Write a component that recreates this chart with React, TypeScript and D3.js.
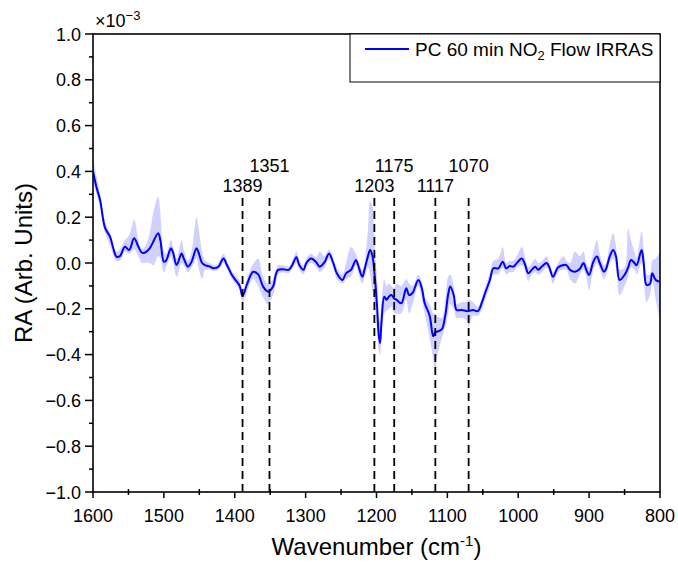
import React from "react";
import * as d3 from "d3";

const wavenumbers = [1600,1595,1590,1583,1576,1571,1567,1562,1555,1549,1542,1536,1531,1527,1520,1515,1508,1505,1500,1497,1490,1487,1482,1475,1472,1466,1461,1454,1451,1446,1442,1435,1430,1423,1416,1411,1404,1397,1393,1389,1383,1377,1374,1367,1360,1353,1346,1342,1339,1332,1324,1320,1313,1309,1303,1299,1292,1285,1280,1273,1267,1261,1256,1248,1243,1236,1229,1226,1220,1217,1212,1209,1206,1202,1199,1197,1195,1193,1189,1186,1182,1179,1175,1172,1165,1158,1154,1149,1141,1136,1132,1125,1120,1117,1115,1108,1103,1099,1096,1091,1087,1080,1073,1070,1064,1057,1051,1047,1040,1035,1028,1022,1017,1012,1007,1002,995,990,986,981,976,972,966,960,956,951,944,936,932,927,920,913,908,904,900,894,889,885,879,876,871,866,862,857,850,845,841,836,833,826,823,819,814,811,806,800];
const raMean = [0.40,0.33,0.275,0.153,0.115,0.06,0.028,0.03,0.071,0.057,0.108,0.071,0.045,0.045,0.064,0.093,0.13,0.10,0.006,0.01,0.064,0.045,-0.009,0.042,0.02,-0.016,0.005,0.064,0.045,0.0,-0.009,-0.016,-0.023,-0.016,0.02,-0.009,-0.052,-0.082,-0.10,-0.144,-0.095,-0.05,-0.038,-0.05,-0.103,-0.125,-0.103,-0.05,-0.03,-0.027,-0.03,-0.016,0.025,-0.009,-0.03,0.0,0.02,0.003,-0.016,0.005,0.042,0.0,-0.045,-0.074,-0.045,-0.03,0.013,-0.009,-0.06,-0.03,0.03,0.057,0.035,-0.074,-0.20,-0.31,-0.35,-0.26,-0.147,-0.16,-0.145,-0.14,-0.155,-0.16,-0.176,-0.11,-0.14,-0.13,-0.074,-0.11,-0.176,-0.23,-0.32,-0.30,-0.30,-0.29,-0.23,-0.14,-0.103,-0.14,-0.205,-0.205,-0.21,-0.21,-0.205,-0.21,-0.17,-0.133,-0.074,-0.023,-0.023,0.006,-0.023,-0.013,-0.016,0.0,0.02,-0.01,-0.045,-0.03,-0.016,-0.03,-0.013,0.0,-0.02,-0.06,-0.02,-0.009,-0.009,-0.03,-0.038,-0.025,0.0,-0.03,-0.052,0.006,0.028,0.0,-0.038,-0.025,0.028,0.057,0.028,-0.074,-0.052,-0.02,0.013,0.0,-0.01,0.057,0.0,-0.096,-0.09,-0.045,-0.074,-0.082];
const raUpper = [0.46,0.38,0.30,0.18,0.13,0.08,0.05,0.06,0.10,0.12,0.19,0.10,0.06,0.07,0.13,0.22,0.29,0.22,0.05,0.04,0.10,0.07,0.02,0.10,0.06,0.01,0.05,0.20,0.15,0.05,0.01,0.0,-0.01,0.0,0.04,0.01,-0.035,-0.06,-0.08,-0.12,-0.07,-0.02,-0.005,0.02,-0.06,-0.09,-0.07,-0.03,-0.01,-0.01,-0.015,0.0,0.05,0.01,-0.01,0.02,0.04,0.025,0.05,0.03,0.06,0.02,-0.02,-0.05,0.0,0.07,0.04,0.01,-0.03,0.0,0.15,0.27,0.25,0.05,-0.08,-0.22,-0.26,-0.18,-0.07,-0.10,-0.09,-0.10,-0.11,-0.09,-0.10,-0.07,-0.09,-0.10,-0.05,-0.08,-0.15,-0.18,-0.22,-0.22,-0.23,-0.24,-0.16,-0.06,-0.05,-0.10,-0.18,-0.17,-0.17,-0.16,-0.17,-0.19,-0.15,-0.11,-0.04,0.01,0.02,0.07,0.0,0.01,0.01,0.03,0.07,0.02,-0.02,0.0,0.02,0.0,0.01,0.03,0.0,-0.04,0.0,0.03,0.01,0.0,0.05,0.03,0.05,0.0,-0.02,0.05,0.10,0.04,-0.01,0.0,0.08,0.13,0.07,-0.03,-0.02,0.15,0.10,0.05,0.02,0.14,0.06,-0.05,-0.05,0.01,0.02,0.05];
const raLower = [0.36,0.30,0.25,0.13,0.08,0.03,0.01,0.01,0.05,0.04,0.06,0.03,0.00,0.00,0.00,-0.01,0.03,0.02,-0.04,-0.02,0.03,0.00,-0.06,0.00,-0.01,-0.04,-0.02,0.02,-0.02,-0.07,-0.03,-0.03,-0.035,-0.03,0.00,-0.025,-0.07,-0.10,-0.12,-0.17,-0.13,-0.08,-0.07,-0.10,-0.15,-0.18,-0.14,-0.09,-0.05,-0.04,-0.045,-0.03,0.00,-0.03,-0.05,-0.02,0.00,-0.02,-0.04,-0.02,0.02,-0.02,-0.07,-0.09,-0.07,-0.06,-0.01,-0.04,-0.09,-0.06,-0.02,-0.05,-0.12,-0.20,-0.30,-0.38,-0.40,-0.32,-0.22,-0.21,-0.20,-0.19,-0.22,-0.22,-0.22,-0.16,-0.22,-0.18,-0.10,-0.16,-0.22,-0.33,-0.42,-0.48,-0.42,-0.33,-0.28,-0.22,-0.18,-0.20,-0.24,-0.24,-0.25,-0.28,-0.23,-0.23,-0.20,-0.16,-0.10,-0.05,-0.05,-0.02,-0.05,-0.04,-0.04,-0.02,-0.01,-0.04,-0.08,-0.05,-0.04,-0.05,-0.04,-0.02,-0.04,-0.09,-0.04,-0.03,-0.03,-0.07,-0.09,-0.05,-0.03,-0.06,-0.12,-0.03,0.0,-0.03,-0.07,-0.05,0.0,0.02,-0.02,-0.14,-0.10,-0.06,-0.02,-0.03,-0.05,0.0,-0.06,-0.17,-0.14,-0.08,-0.16,-0.25];

const peakPositions = [1389, 1351, 1203, 1175, 1117, 1070];
const peakLabelRaised = [false, true, false, true, false, true];
const xTicks = [1600, 1500, 1400, 1300, 1200, 1100, 1000, 900, 800];
const yTicks = [-1.0, -0.8, -0.6, -0.4, -0.2, 0.0, 0.2, 0.4, 0.6, 0.8, 1.0];
const legendLabel = ["PC 60 min NO", "2", " Flow IRRAS"];

const W = 678, H = 563;
const M = { left: 93, right: 660, top: 34, bottom: 492 };
const FONT = "'Liberation Sans', Arial, sans-serif";

export default function App() {
  const x = d3.scaleLinear().domain([1600, 800]).range([M.left, M.right]);
  const y = d3.scaleLinear().domain([-1, 1]).range([M.bottom, M.top]);
  const pts = wavenumbers.map((w, i) => ({ w, m: raMean[i], hi: raUpper[i], lo: raLower[i] }));
  const line = d3.line<any>().x(d => x(d.w)).y(d => y(d.m)).curve(d3.curveCatmullRom.alpha(0.5));
  const area = d3.area<any>().x(d => x(d.w)).y0(d => y(d.lo)).y1(d => y(d.hi)).curve(d3.curveCatmullRom.alpha(0.5));
  const xMinor = d3.range(1550, 800, -100);
  const yMinor = d3.range(-0.9, 1.0, 0.2);
  const fmt = (v: number) => (v < 0 ? "\u2212" : "") + Math.abs(v).toFixed(1);

  return (
    <svg width={W} height={H} style={{ position: "absolute", left: 0, top: 0, background: "#fff" }} fontFamily={FONT}>
      <defs>
        <clipPath id="plot"><rect x={M.left} y={M.top} width={M.right - M.left} height={M.bottom - M.top} /></clipPath>
      </defs>
      <rect x={0} y={0} width={W} height={H} fill="#fff" />
      <g clipPath="url(#plot)">
        <path d={area(pts) || ""} fill="#0000ff" fillOpacity={0.18} stroke="none" />
        <path d={line(pts) || ""} fill="none" stroke="#0000ff" strokeWidth={2} />
      </g>
      {peakPositions.map((p, i) => (
        <g key={p}>
          <line x1={x(p)} x2={x(p)} y1={198} y2={M.bottom} stroke="#000" strokeWidth={1.8} strokeDasharray="8,5" />
          <text x={x(p)} y={peakLabelRaised[i] ? 172 : 192} textAnchor="middle" fontSize={18}>{p}</text>
        </g>
      ))}
      <rect x={M.left} y={M.top} width={M.right - M.left} height={M.bottom - M.top} fill="none" stroke="#000" strokeWidth={1.6} />
      {yTicks.map(t => (
        <g key={t}>
          <line x1={M.left - 8} x2={M.left} y1={y(t)} y2={y(t)} stroke="#000" strokeWidth={1.5} />
          <text x={M.left - 12} y={y(t) + 6.5} textAnchor="end" fontSize={18}>{fmt(t)}</text>
        </g>
      ))}
      {yMinor.map(t => (
        <line key={t} x1={M.left - 4} x2={M.left} y1={y(t)} y2={y(t)} stroke="#000" strokeWidth={1.5} />
      ))}
      {xTicks.map(t => (
        <g key={t}>
          <line x1={x(t)} x2={x(t)} y1={M.bottom} y2={M.bottom + 6} stroke="#000" strokeWidth={1.5} />
          <text x={x(t)} y={M.bottom + 30} textAnchor="middle" fontSize={18}>{t}</text>
        </g>
      ))}
      {xMinor.map(t => (
        <line key={t} x1={x(t)} x2={x(t)} y1={M.bottom - 3} y2={M.bottom + 3} stroke="#000" strokeWidth={1.5} />
      ))}
      <text x={95} y={27} fontSize={18}>×10<tspan dy={-7} fontSize={13}>−3</tspan></text>
      <text transform={`translate(32,${(M.top + M.bottom) / 2}) rotate(-90)`} textAnchor="middle" fontSize={24}>RA (Arb. Units)</text>
      <text x={(M.left + M.right) / 2} y={555} textAnchor="middle" fontSize={24}>Wavenumber (cm<tspan dy={-9} fontSize={15}>-1</tspan><tspan dy={9}>)</tspan></text>
      <rect x={350} y={M.top} width={M.right - 350} height={48} fill="#fff" stroke="#000" strokeWidth={1} />
      <line x1={365} x2={409} y1={49} y2={49} stroke="#0000ff" strokeWidth={2} />
      <text x={415} y={56} fontSize={19}>{legendLabel[0]}<tspan dy={4} fontSize={13}>{legendLabel[1]}</tspan><tspan dy={-4}>{legendLabel[2]}</tspan></text>
    </svg>
  );
}
